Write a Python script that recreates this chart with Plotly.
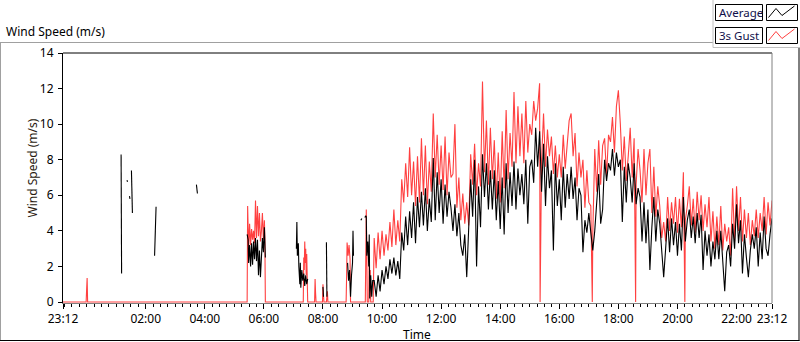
import plotly.graph_objects as go
import pandas as pd

# ---------------- data ----------------
DAY0, DAY1 = "2015-06-01", "2015-06-02"

# 3s gust, sparse early part (clock times, m/s)
gust_early_t = ["23:12", "23:59", "00:00", "00:01", "00:02",
                "05:26", "05:27", "05:29", "05:31", "05:33", "05:35", "05:37", "05:39", "05:41", "05:43",
                "05:45", "05:47", "05:49", "05:51", "05:53", "05:55", "05:57", "05:59", "06:01", "06:02", "06:03",
                "07:20", "07:21", "07:22", "07:23", "07:24", "07:25", "07:26", "07:27", "07:28", "07:29",
                "07:43", "07:44", "07:45", "07:46",
                "07:59", "08:00", "08:01", "08:02",
                "08:07", "08:08", "08:09", "08:10",
                "08:47", "08:48", "08:49", "08:51", "08:53", "08:55", "08:56",
                "09:26", "09:27", "09:28", "09:29", "09:30",
                "09:33", "09:34", "09:35", "09:36", "09:37",
                "09:42"]
gust_early_v = [0, 0, 0.7, 1.35, 0,
                0, 5.4, 3.0, 4.4, 3.2, 4.1, 3.5, 4.0, 3.3, 5.7,
                3.6, 5.4, 3.7, 5.0, 3.4, 4.0, 5.0, 3.5, 4.6, 3.6, 0,
                0, 2.5, 1.8, 3.4, 2.2, 3.0, 1.5, 2.7, 1.2, 0,
                0, 1.29, 0.5, 0,
                0, 1.0, 0.4, 0,
                0, 0.6, 0.6, 0,
                0, 1.4, 3.35, 2.6, 3.2, 2.4, 0,
                0, 3.0, 5.2, 2.6, 0,
                0, 2.5, 0.6, 1.8, 0,
                0]
# moments when the gust reading drops to zero
gust_dropouts = ["15:21", "17:07", "18:35", "20:15"]

# average wind, sparse early part (None = no data)
avg_early_t = ["01:10", "01:11", "01:15",
               "01:22", "01:23", "01:25",
               "01:27", "01:28", "01:29",
               "01:31", "01:32", "01:33", "01:40",
               "02:18", "02:19", "02:20", "02:21", "02:30",
               "03:43", "03:44", "03:45", "04:00",
               "05:26", "05:28", "05:29", "05:31", "05:33", "05:35", "05:37", "05:39", "05:41", "05:43",
               "05:45", "05:47", "05:49", "05:51", "05:53", "05:55", "05:57", "05:59", "06:01", "06:03", "06:30",
               "07:06", "07:07", "07:08", "07:10", "07:11", "07:13", "07:14", "07:15", "07:17", "07:19",
               "07:21", "07:23", "07:25", "07:27", "07:29", "07:40",
               "08:00", "08:01", "08:04",
               "08:07", "08:08", "08:20",
               "08:50", "08:52", "08:54", "08:56", "08:58", "09:00", "09:01", "09:02", "09:10",
               "09:17", "09:19", "09:22",
               "09:25", "09:27", "09:28", "09:29", "09:31", "09:33", "09:34", "09:35", "09:37", "09:39", "09:41"]
avg_early_v = [8.3, 1.6, None,
               6.85, 6.75, None,
               5.95, 5.8, None,
               7.4, 6.4, 5.0, None,
               2.6, 4.0, 4.05, 5.35, None,
               6.6, 6.35, 6.1, None,
               3.8, 3.5, 2.2, 3.2, 2.0, 3.3, 2.1, 3.4, 2.4, 3.6,
               2.3, 3.5, 1.5, 2.9, 1.4, 2.3, 3.6, 2.8, 4.2, 2.5, None,
               3.0, 4.5, 2.6, 3.3, 2.0, 1.0, 2.2, 0.8, 1.8, 1.2,
               1.6, 0.9, 1.5, 1.0, 1.3, None,
               0.85, 0.3, None,
               3.36, 0.3, None,
               2.2, 1.2, 1.8, 0.3, 1.5, 2.2, 4.0, 2.6, None,
               4.6, 4.7, None,
               4.75, 4.85, 4.8, 2.6, 3.4, 2.0, 3.8, 0.2, 1.5, 0.3, 1.2]

# continuous part: one reading every 4 minutes from 09:44 to 23:12
dense_start = "09:44"
dense_step_min = 4
gust_dense = [3.6, 1.9, 3.9, 2.4, 4.0, 2.6, 3.8, 2.9, 4.5, 3.1,
              5.2, 3.2, 4.6, 3.4, 6.9, 5.6, 7.8, 5.9, 8.7, 6.0,
              7.9, 5.4, 8.2, 5.6, 9.2, 6.0, 8.8, 5.5, 7.9, 6.2,
              10.6, 7.0, 9.4, 6.6, 8.8, 6.3, 9.3, 6.0, 8.4, 7.0,
              7.2, 10.0, 5.3, 7.0, 4.6, 6.1, 4.4, 5.6, 4.3, 8.3,
              6.6, 8.9, 6.0, 7.8, 6.5, 12.4, 7.3, 10.2, 6.6, 9.8,
              6.9, 9.1, 5.8, 8.4, 5.6, 9.6, 6.4, 10.8, 6.9, 9.5,
              7.6, 11.8, 7.8, 11.0, 8.2, 10.6, 7.8, 11.3, 8.4, 10.0,
              9.4, 11.3, 10.2, 10.9, 12.3, 8.0, 10.6, 7.6, 9.7, 8.2,
              9.3, 7.2, 8.8, 7.0, 8.3, 7.0, 9.4, 7.5, 8.8, 10.2,
              10.6, 8.2, 9.5, 6.5, 8.4, 7.0, 8.0, 5.3, 7.4, 5.6,
              5.4, 3.8, 8.6, 6.2, 9.1, 6.6, 8.8, 9.2, 7.1, 9.4,
              9.0, 10.4, 8.4, 11.0, 11.9, 10.0, 7.4, 9.3, 6.8, 8.2,
              9.8, 7.0, 9.2, 6.6, 8.6, 7.4, 5.6, 8.6, 6.0, 7.8,
              8.6, 5.0, 7.6, 4.8, 6.5, 5.4, 3.6, 4.5, 3.4, 5.9,
              4.0, 5.6, 4.4, 5.9, 3.9, 5.8, 4.2, 7.3, 4.6, 5.4,
              6.5, 4.3, 5.8, 3.9, 6.2, 4.6, 6.0, 4.0, 5.5, 4.2,
              5.9, 3.4, 5.1, 3.0, 4.8, 3.2, 5.4, 2.9, 4.4, 3.4,
              4.2, 2.6, 6.4, 3.4, 6.5, 4.0, 5.9, 3.4, 5.2, 3.6,
              5.0, 3.2, 4.6, 3.7, 5.2, 3.6, 5.0, 4.0, 5.9, 3.8,
              5.6, 4.3, 5.7]
avg_dense = [1.2, 0.3, 1.5, 0.6, 1.8, 1.0, 2.0, 1.3, 2.4, 1.6,
             2.5, 1.5, 2.3, 1.3, 3.9, 2.9, 4.8, 3.2, 5.1, 3.6,
             5.6, 3.3, 5.9, 4.2, 6.2, 4.3, 6.4, 4.0, 5.8, 4.5,
             8.1, 4.6, 7.3, 5.0, 6.9, 4.4, 6.6, 4.8, 6.2, 5.3,
             4.0, 5.5, 3.7, 5.0, 3.2, 2.6, 3.8, 1.4, 4.2, 6.9,
             4.8, 8.0, 2.0, 6.5, 4.2, 8.3, 5.9, 7.8, 5.2, 7.4,
             5.2, 7.4, 4.6, 6.8, 4.1, 7.0, 3.8, 7.8, 5.0, 7.3,
             5.4, 7.9, 5.2, 7.5, 6.0, 7.2, 5.5, 8.0, 4.4, 7.6,
             8.0, 6.7, 9.8, 7.6, 9.6, 6.2, 8.9, 5.4, 8.2, 6.4,
             7.4, 2.9, 7.8, 5.4, 6.9, 4.6, 7.6, 5.3, 7.2, 5.8,
             7.6, 5.8, 7.0, 4.6, 6.4, 6.0, 2.8, 4.6, 3.9, 5.0,
             3.9, 2.9, 4.0, 5.6, 7.2, 4.4, 5.2, 8.0, 6.8, 7.8,
             7.4, 8.6, 7.1, 8.4, 7.6, 8.0, 4.5, 7.6, 5.6, 7.8,
             7.0, 5.6, 7.8, 5.5, 6.4, 5.9, 3.4, 5.6, 3.3, 5.2,
             1.8, 4.2, 5.9, 3.4, 5.2, 4.4, 2.6, 1.4, 3.0, 4.7,
             2.8, 4.7, 3.2, 4.5, 2.6, 4.4, 2.9, 5.9, 3.4, 4.6,
             5.2, 3.6, 4.8, 3.3, 5.0, 3.6, 4.9, 1.8, 4.0, 2.6,
             3.8, 2.0, 3.4, 2.4, 4.0, 2.4, 4.0, 2.2, 0.6, 2.8,
             3.2, 2.0, 4.4, 3.0, 5.5, 3.3, 4.6, 1.6, 3.8, 2.5,
             1.4, 2.9, 3.8, 3.0, 4.2, 2.0, 3.9, 2.4, 4.8, 3.0,
             2.6, 3.8, 4.7]

# axis
y_ticks = [0, 2, 4, 6, 8, 10, 12, 14]
x_tick_labels = ["23:12", "02:00", "04:00", "06:00", "08:00", "10:00", "12:00",
                 "14:00", "16:00", "18:00", "20:00", "22:00", "23:12"]


# ---------------- build ----------------
def ts(hhmm):
    day = DAY0 if hhmm >= "23:12" else DAY1
    return pd.Timestamp(f"{day} {hhmm}")


dense_t = list(pd.date_range(start=f"{DAY1} {dense_start}", periods=len(gust_dense),
                             freq=f"{dense_step_min}min"))

g = pd.Series(gust_early_v + gust_dense + [0] * len(gust_dropouts),
              index=[ts(t) for t in gust_early_t] + dense_t + [ts(t) for t in gust_dropouts]).sort_index()

avg_x = [ts(t) for t in avg_early_t] + dense_t
avg_y = avg_early_v + avg_dense

tick_x = [pd.Timestamp(f"{DAY0} 23:12")] + [ts(t) for t in x_tick_labels[1:-1]] + [pd.Timestamp(f"{DAY1} 23:12")]

FONT = "Noto Sans"
fig = go.Figure()
fig.add_trace(go.Scatter(x=list(g.index), y=list(g.values), mode="lines", name="3s Gust",
                         line=dict(color="#ff4040", width=1.1)))
fig.add_trace(go.Scatter(x=avg_x, y=avg_y, mode="lines", name="Average", connectgaps=False,
                         line=dict(color="#000000", width=1.1)))

L, R, T, B = 63, 772, 53, 303
W, H = 800, 342


def px(x):
    return (x - L) / (R - L)


def py(y):
    return (B - y) / (B - T)


def seg(x0, y0, x1, y1, color, width=1):
    return dict(type="line", xref="paper", yref="paper", x0=px(x0), y0=py(y0), x1=px(x1), y1=py(y1),
                line=dict(color=color, width=width), layer="above")


def rect(x0, y0, x1, y1):
    return dict(type="rect", xref="paper", yref="paper", x0=px(x0), y0=py(y0), x1=px(x1), y1=py(y1),
                line=dict(color="#000000", width=1), fillcolor="white", layer="above")


def zig(pts, color):
    d = "M " + " L ".join(f"{px(a):.5f},{py(b):.5f}" for a, b in pts)
    return dict(type="path", xref="paper", yref="paper", path=d, line=dict(color=color, width=1), layer="above")


shapes = [
    seg(L, T, R, T, "#000000"),
    seg(R, T, R, B, "#808080"),
    # outer frame
    seg(0, 42.5, 713, 42.5, "#a0a0a0"),
    seg(0.5, 42.5, 0.5, 341, "#a0a0a0"),
    seg(0, 340.5, 799.5, 340.5, "#000000"),
    seg(799, 47.5, 799, 341, "#000000"),
    # legend panel
    seg(713, 0, 713, 47.5, "#c0c0c0"),
    seg(713, 47.5, 799, 47.5, "#c0c0c0"),
    rect(715.5, 4.5, 762.5, 20.5), rect(766.5, 4.5, 797.5, 20.5),
    rect(715.5, 27.5, 762.5, 43.5), rect(766.5, 27.5, 797.5, 43.5),
    zig([(768.5, 17.5), (776, 8.5), (782, 15.5), (794.5, 6)], "#000000"),
    zig([(768.5, 40.5), (776, 31.5), (782, 38.5), (794.5, 29)], "#ff4040"),
]

ann_font = dict(family=FONT, size=12, color="#000000")
annotations = [
    dict(text="Wind Speed (m/s)", x=px(4), y=py(32), xref="paper", yref="paper", xanchor="left",
         yanchor="middle", showarrow=False, font=ann_font),
    dict(text="Wind Speed (m/s)", x=px(31.5), y=py(168), xref="paper", yref="paper", xanchor="center",
         yanchor="middle", textangle=-90, showarrow=False, font=dict(family=FONT, size=12, color="#2a1a10")),
    dict(text="Time", x=px(416.5), y=py(334), xref="paper", yref="paper", xanchor="center",
         yanchor="middle", showarrow=False, font=ann_font),
    dict(text="Average", x=px(716.5), y=py(12.5), xref="paper", yref="paper", xanchor="left",
         yanchor="middle", showarrow=False, font=dict(family=FONT, size=11.5, color="#10104a")),
    dict(text="3s Gust", x=px(716.5), y=py(35.5), xref="paper", yref="paper", xanchor="left",
         yanchor="middle", showarrow=False, font=dict(family=FONT, size=11.5, color="#10104a")),
]

fig.update_layout(
    width=W, height=H, margin=dict(l=L, r=W - R, t=T, b=H - B, pad=0),
    paper_bgcolor="white", plot_bgcolor="white", showlegend=False,
    font=dict(family=FONT, size=12, color="#000000"),
    shapes=shapes, annotations=annotations,
    xaxis=dict(type="date", range=[tick_x[0], tick_x[-1]], tickvals=tick_x, ticktext=x_tick_labels,
               ticks="outside", ticklen=5, tickwidth=1, tickcolor="#000000",
               showline=True, linecolor="#808080", linewidth=1, showgrid=False, zeroline=False,
               layer="below traces", tickfont=dict(family=FONT, size=12, color="#000000"),
               minor=dict(ticks="outside", ticklen=3, tickwidth=1, tickcolor="#000000",
                          dtick=15 * 60 * 1000, tick0=f"{DAY0} 00:00", showgrid=False)),
    yaxis=dict(range=[-0.056, 14], tickvals=y_ticks, ticks="outside", ticklen=4, tickwidth=1,
               tickcolor="#000000", showline=True, linecolor="#000000", linewidth=1,
               showgrid=False, zeroline=False, ticklabelstandoff=2,
               tickfont=dict(family=FONT, size=12, color="#000000")),
)

fig.write_html("out.html", config={"displayModeBar": False},
               post_script="document.body.style.margin='0';document.body.style.overflow='hidden';")
